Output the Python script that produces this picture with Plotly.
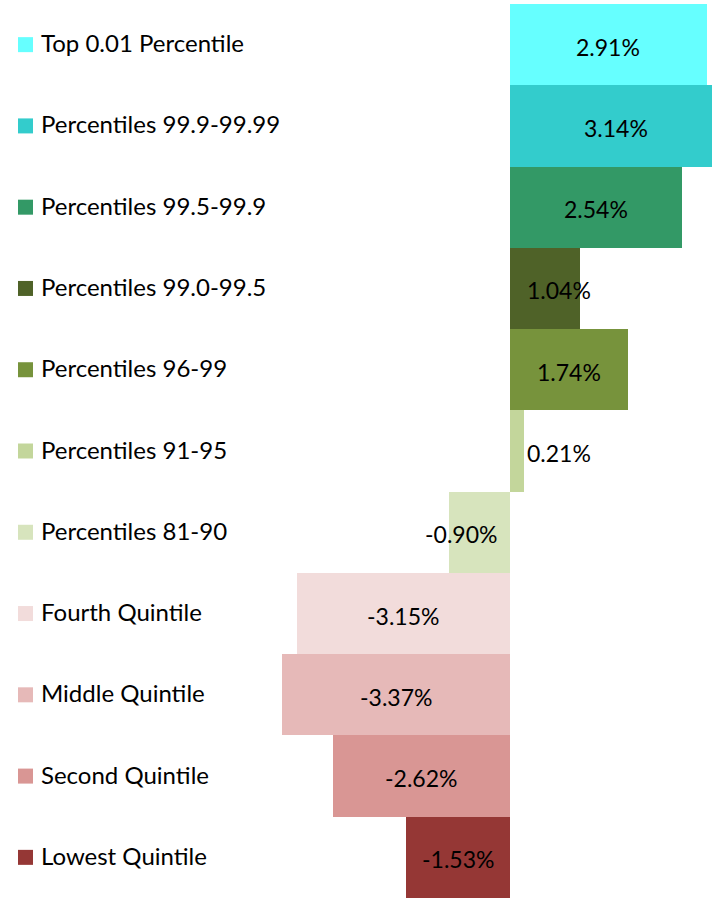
import plotly.graph_objects as go

categories = ["Top 0.01 Percentile", "Percentiles 99.9-99.99", "Percentiles 99.5-99.9",
              "Percentiles 99.0-99.5", "Percentiles 96-99", "Percentiles 91-95",
              "Percentiles 81-90", "Fourth Quintile", "Middle Quintile",
              "Second Quintile", "Lowest Quintile"]
values = [2.91, 3.14, 2.54, 1.04, 1.74, 0.21, -0.90, -3.15, -3.37, -2.62, -1.53]
colors = ["#66FFFF", "#33CCCC", "#339966", "#4F6228", "#77933C", "#C3D69B",
          "#D7E4BD", "#F2DCDB", "#E6B9B8", "#D99694", "#953735"]
labels = [f"{v:.2f}%" for v in values]

FONT = "Lato, 'Open Sans', sans-serif"

# label positions: centred in bar, but kept clear of the axis for short bars
label_x = [(1 if v >= 0 else -1) * max(abs(v) / 2, 0.72) for v in values]

fig = go.Figure()
fig.add_trace(go.Bar(
    y=categories, x=values, orientation="h",
    marker=dict(color=colors, line=dict(width=0)),
    width=1.0, showlegend=False, hoverinfo="skip",
))
# legend squares on an overlay axis
fig.add_trace(go.Scatter(
    y=categories, x=[25.5] * len(categories), xaxis="x2", mode="markers",
    marker=dict(symbol="square", size=15, color=colors, line=dict(width=0)),
    showlegend=False, hoverinfo="skip",
))
for c, lx, lab in zip(categories, label_x, labels):
    fig.add_annotation(x=lx, xref="x", y=c, yref="y", text=lab,
                       xanchor="center", yanchor="middle", showarrow=False,
                       yshift=-2,
                       font=dict(family=FONT, size=23, color="#000000"))
    fig.add_annotation(x=39 / 712, xref="paper", y=c, yref="y", text=c,
                       xanchor="left", yanchor="middle", showarrow=False,
                       yshift=2,
                       font=dict(family=FONT, size=24, color="#000000"))

fig.update_layout(
    width=712, height=898,
    margin=dict(l=0, r=0, t=4, b=0),
    paper_bgcolor="white", plot_bgcolor="white",
    bargap=0,
    xaxis=dict(range=[-510 / 67.66, 202 / 67.66], visible=False, fixedrange=True),
    xaxis2=dict(range=[0, 712], overlaying="x", visible=False, fixedrange=True),
    yaxis=dict(categoryorder="array", categoryarray=categories[::-1],
               visible=False, range=[-0.5, len(categories) - 0.5]),
)

fig.write_html("out.html", config={"displayModeBar": False},
               post_script="document.body.style.margin='0';document.body.style.overflow='hidden';")
